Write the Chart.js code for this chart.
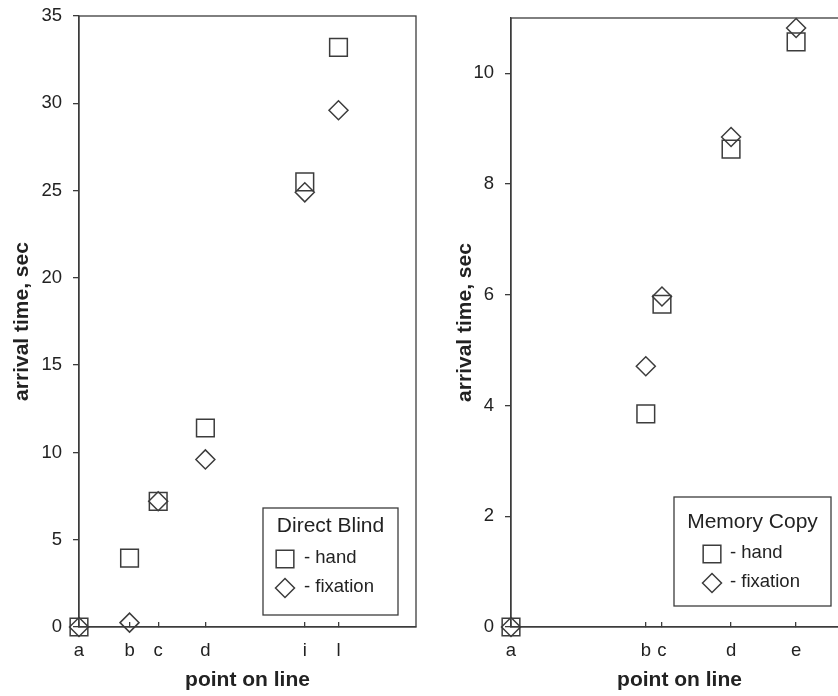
<!DOCTYPE html>
<html>
<head>
<meta charset="utf-8">
<script src="https://cdn.jsdelivr.net/npm/chart.js@4.4.1/dist/chart.umd.min.js"></script>
<style>
  html, body { margin: 0; padding: 0; background: #fff; }
  #wrap { position: relative; width: 838px; height: 696px; overflow: hidden; }
  #blindChart { position: absolute; left: 0; top: 0; }
  #copyChart { position: absolute; left: 440px; top: 0; }
</style>
</head>
<body>
<div id="wrap">
  <canvas id="blindChart" width="420" height="696"></canvas>
  <canvas id="copyChart" width="412" height="696"></canvas>
</div>
<script>
// Direct Blind panel
const blindPoints = ['a', 'b', 'c', 'd', 'i', 'l'];
const blindPos = [0, 1.5, 2.35, 3.75, 6.7, 7.7];
const blindHand = [0, 3.95, 7.2, 11.4, 25.5, 33.2];
const blindFix = [0, 0.25, 7.2, 9.6, 24.9, 29.6];
const blindYTicks = [0, 5, 10, 15, 20, 25, 30, 35];

// Memory Copy panel
const copyPoints = ['a', 'b', 'c', 'd', 'e'];
const copyPos = [0, 4.0, 4.48, 6.53, 8.46];
const copyHand = [0, 3.85, 5.83, 8.63, 10.57];
const copyFix = [0, 4.71, 5.97, 8.85, 10.82];
const copyYTicks = [0, 2, 4, 6, 8, 10];

const INK = '#3c3c3c';
const TEXT = '#222';
const FONT = '"Liberation Sans", Arial, sans-serif';

// closes the plot frame (top + right)
const frameBox = {
    id: 'frameBox',
    beforeDatasetsDraw(chart) {
        const { ctx, chartArea } = chart;
        ctx.save();
        ctx.strokeStyle = INK;
        ctx.lineWidth = 1.3;
        ctx.strokeRect(chartArea.left, chartArea.top, chartArea.width, chartArea.height);
        ctx.restore();
    },
};

// boxed legend inside the plot, bottom right
const boxLegend = {
    id: 'boxLegend',
    afterDraw(chart, args, opts) {
        if (!opts.title) return;
        const { ctx, chartArea } = chart;
        const left = chartArea.right - opts.right - opts.width;
        const top = chartArea.bottom - opts.bottom - opts.height;

        ctx.save();
        ctx.fillStyle = '#fff';
        ctx.fillRect(left, top, opts.width, opts.height);
        ctx.strokeStyle = INK;
        ctx.lineWidth = 1.3;
        ctx.strokeRect(left, top, opts.width, opts.height);

        ctx.fillStyle = TEXT;
        ctx.textBaseline = 'middle';
        ctx.textAlign = 'center';
        ctx.font = '21px ' + FONT;
        ctx.fillText(opts.title, left + opts.width / 2, top + opts.titleY);

        chart.data.datasets.forEach((ds, i) => {
            const y = top + opts.rowY[i];
            ctx.fillStyle = 'rgba(0,0,0,0)';
            ctx.strokeStyle = INK;
            ctx.lineWidth = ds.borderWidth;
            Chart.helpers.drawPoint(ctx, {
                pointStyle: ds.pointStyle,
                radius: ds.pointRadius,
                rotation: 0,
                borderWidth: ds.borderWidth,
            }, left + opts.markerX, y);

            ctx.fillStyle = TEXT;
            ctx.textAlign = 'left';
            ctx.font = '18.5px ' + FONT;
            ctx.fillText(ds.label, left + opts.textX, y - 1);
        });
        ctx.restore();
    },
};

function toXY(pos, vals) {
    return pos.map((x, i) => ({ x: x, y: vals[i] }));
}

function makeChart(canvasId, cfg) {
    const ctx = document.getElementById(canvasId).getContext('2d');
    return new Chart(ctx, {
        type: 'scatter',
        data: {
            datasets: [{
                label: '- hand',
                data: toXY(cfg.pos, cfg.hand),
                pointStyle: 'rect',
                pointRadius: 12.5,
                pointHoverRadius: 12.5,
                borderWidth: 1.5,
                borderColor: INK,
                backgroundColor: 'rgba(0,0,0,0)',
                clip: false,
            }, {
                label: '- fixation',
                data: toXY(cfg.pos, cfg.fix),
                pointStyle: 'rectRot',
                pointRadius: 9.5,
                pointHoverRadius: 9.5,
                borderWidth: 1.5,
                borderColor: INK,
                backgroundColor: 'rgba(0,0,0,0)',
                clip: false,
            }]
        },
        options: {
            responsive: false,
            animation: false,
            layout: { autoPadding: false, padding: { top: cfg.top, right: 4, bottom: 0, left: 0 } },
            scales: {
                x: {
                    type: 'linear',
                    min: 0,
                    max: 10,
                    afterBuildTicks: s => { s.ticks = cfg.pos.map(v => ({ value: v })); },
                    afterFit: s => {
                        s.height = 69;
                        s.paddingLeft = 0;
                        s.paddingRight = 0;
                    },
                    grid: { drawOnChartArea: false, drawTicks: true, tickLength: -5, color: INK, lineWidth: 1.3 },
                    border: { color: INK, width: 1.3 },
                    ticks: {
                        callback: (v, i) => cfg.points[i],
                        autoSkip: false,
                        maxRotation: 0,
                        padding: 18,
                        color: TEXT,
                        font: { family: FONT, size: 18.5 },
                    },
                    title: {
                        display: true,
                        text: 'point on line',
                        color: TEXT,
                        font: { family: FONT, size: 21, weight: 'bold' },
                        padding: { top: 0, bottom: 3 },
                    },
                },
                y: {
                    min: 0,
                    max: cfg.yMax,
                    afterBuildTicks: s => { s.ticks = cfg.yTicks.map(v => ({ value: v })); },
                    afterFit: s => {
                        s.width = cfg.yWidth;
                        s.paddingTop = 0;
                        s.paddingBottom = 0;
                    },
                    grid: { drawOnChartArea: false, drawTicks: true, tickLength: 6, color: INK, lineWidth: 1.3 },
                    border: { color: INK, width: 1.3 },
                    ticks: {
                        padding: 11,
                        color: TEXT,
                        font: { family: FONT, size: 18.5 },
                    },
                    title: {
                        display: true,
                        text: 'arrival time, sec',
                        color: TEXT,
                        font: { family: FONT, size: 21, weight: 'bold' },
                        padding: { top: cfg.titlePad, bottom: 0 },
                    },
                },
            },
            plugins: {
                legend: { display: false },
                tooltip: { enabled: false },
                boxLegend: cfg.legend,
            },
        },
        plugins: [frameBox, boxLegend],
    });
}

makeChart('blindChart', {
    points: blindPoints, pos: blindPos, hand: blindHand, fix: blindFix,
    yTicks: blindYTicks, yMax: 35, yWidth: 79, titlePad: 9.4, top: 16,
    legend: {
        title: 'Direct Blind', right: 18, bottom: 12, width: 135, height: 107,
        titleY: 18, markerX: 22, textX: 41, rowY: [51, 80],
    },
});

makeChart('copyChart', {
    points: copyPoints, pos: copyPos, hand: copyHand, fix: copyFix,
    yTicks: copyYTicks, yMax: 11, yWidth: 71, titlePad: 12.4, top: 18,
    legend: {
        title: 'Memory Copy', right: 17, bottom: 21, width: 157, height: 109,
        titleY: 25, markerX: 38, textX: 56, rowY: [57, 86],
    },
});
</script>
</body>
</html>
